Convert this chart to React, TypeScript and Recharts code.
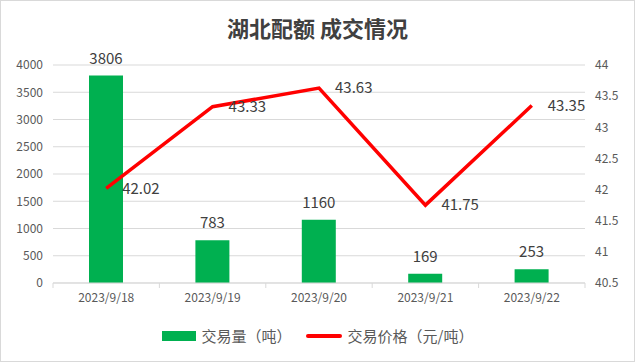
import {
  Bar,
  CartesianGrid,
  ComposedChart,
  LabelList,
  Legend,
  Line,
  XAxis,
  YAxis,
} from "recharts";

const dates = ["2023/9/18", "2023/9/19", "2023/9/20", "2023/9/21", "2023/9/22"];
const volume = [3806, 783, 1160, 169, 253];
const price = [42.02, 43.33, 43.63, 41.75, 43.35];
const volumeTicks = [0, 500, 1000, 1500, 2000, 2500, 3000, 3500, 4000];
const priceTicks = [40.5, 41, 41.5, 42, 42.5, 43, 43.5, 44];

const data = dates.map((date, i) => ({ date, volume: volume[i], price: price[i] }));

const FONT = '"Noto Sans CJK SC", "Noto Sans", sans-serif';
const axisText = { fill: "#595959", fontSize: 12, fontFamily: FONT };
const grid = "#d9d9d9";

// Excel puts x tick marks on category boundaries, not centres.
function DateTick(props: any) {
  const { x, y, payload, index } = props;
  const half = 53.2;
  const axisY = y - 10;
  return (
    <g>
      <line x1={x - half} x2={x - half} y1={axisY} y2={axisY + 5} stroke={grid} />
      {index === dates.length - 1 && (
        <line x1={x + half} x2={x + half} y1={axisY} y2={axisY + 5} stroke={grid} />
      )}
      <text x={x} y={y} dy="0.71em" textAnchor="middle" {...axisText}>
        {payload.value}
      </text>
    </g>
  );
}

function LegendBox() {
  return (
    <div
      style={{
        display: "flex",
        justifyContent: "center",
        alignItems: "center",
        fontFamily: FONT,
        fontSize: 15,
        color: "#595959",
        gap: 6,
      }}
    >
      <span style={{ width: 34, height: 10, background: "#00b050", display: "inline-block" }} />
      <span style={{ marginRight: 8 }}>交易量（吨）</span>
      <span style={{ width: 36, height: 4, background: "#ff0000", borderRadius: 2, display: "inline-block" }} />
      <span>交易价格（元/吨）</span>
    </div>
  );
}

export default function App() {
  return (
    <div
      style={{
        position: "absolute",
        left: 0,
        top: 0,
        width: 633,
        height: 360,
        border: "1px solid #d9d9d9",
        background: "#fff",
      }}
    >
      <div
        style={{
          position: "absolute",
          top: 11,
          width: "100%",
          textAlign: "center",
          fontFamily: FONT,
          fontWeight: 700,
          fontSize: 22,
          color: "#404040",
          lineHeight: "30px",
        }}
      >
        湖北配额 成交情况
      </div>
      <ComposedChart
        width={633}
        height={360}
        data={data}
        margin={{ top: 64, right: 0, bottom: 48, left: -1 }}
      >
        <CartesianGrid yAxisId="vol" vertical={false} stroke={grid} />
        <XAxis
          dataKey="date"
          tick={<DateTick />}
          tickLine={false}
          tickSize={0}
          tickMargin={10}
          axisLine={{ stroke: grid }}
          height={30}
          interval={0}
        />
        <YAxis
          yAxisId="vol"
          domain={[0, 4000]}
          ticks={volumeTicks}
          width={53}
          tick={axisText}
          tickLine={false}
          tickSize={0}
          tickMargin={10}
          axisLine={false}
        />
        <YAxis
          yAxisId="price"
          orientation="right"
          domain={[40.5, 44]}
          ticks={priceTicks}
          width={49}
          tick={{ ...axisText, textAnchor: "start" }}
          tickLine={false}
          tickSize={0}
          tickMargin={10}
          axisLine={false}
        />
        <Legend
          layout="horizontal"
          verticalAlign="middle"
          align="center"
          content={<LegendBox />}
          wrapperStyle={{ top: 324, left: 0, width: 633 }}
        />
        <Bar yAxisId="vol" dataKey="volume" fill="#00b050" barSize={34} isAnimationActive={false}>
          <LabelList
            dataKey="volume"
            position="top"
            offset={12}
            style={{ fill: "#404040", fontSize: 15, fontFamily: FONT }}
          />
        </Bar>
        <Line
          yAxisId="price"
          dataKey="price"
          stroke="#ff0000"
          strokeWidth={3.5}
          dot={false}
          type="linear"
          isAnimationActive={false}
        >
          <LabelList
            dataKey="price"
            position="right"
            offset={16}
            style={{ fill: "#404040", fontSize: 15, fontFamily: FONT }}
          />
        </Line>
      </ComposedChart>
    </div>
  );
}
